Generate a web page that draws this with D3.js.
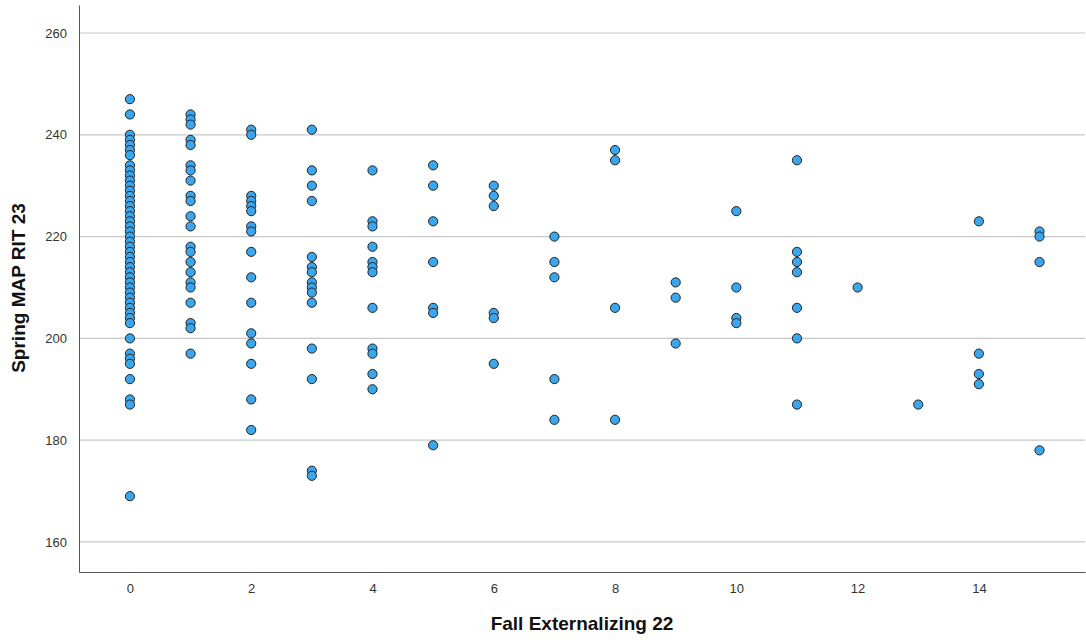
<!DOCTYPE html>
<html><head><meta charset="utf-8">
<script src="https://cdn.jsdelivr.net/npm/d3@7"></script>
<style>body{margin:0;background:#fff}svg{display:block}</style>
</head><body><svg id="c" width="1086" height="643"></svg>
<script>
const xTicks = [0,2,4,6,8,10,12,14];
const yTicks = [160,180,200,220,240,260];
const xLabel = "Fall Externalizing 22";
const yLabel = "Spring MAP RIT 23";
const col0 = [247,244,240,239,238,237,236,234,233,232,231,230,229,228,227,226,225,224,223,222,221,220,219,218,217,216,215,214,213,212,211,210,209,208,207,206,205,204,203,200,197,196,195,192,188,187,169];
const col1 = [244,243,242,239,238,234,233,231,228,227,224,222,218,217,215,213,211,210,207,203,202,197];
const col2 = [241,240,228,227,226,225,222,221,217,212,207,201,199,195,188,182];
const col3 = [241,233,230,227,216,214,213,211,210,209,207,198,192,174,173];
const col4 = [233,223,222,218,215,214,213,206,198,197,193,190];
const col5 = [234,230,223,215,206,205,179];
const col6 = [230,228,226,205,204,195];
const col7 = [220,215,212,192,184];
const col8 = [237,235,206,184];
const col9 = [211,208,199];
const col10 = [225,210,204,203];
const col11 = [235,217,215,213,206,200,187];
const col12 = [210];
const col13 = [187];
const col14 = [223,197,193,191];
const col15 = [221,220,215,178];
const columns = [col0,col1,col2,col3,col4,col5,col6,col7,col8,col9,col10,col11,col12,col13,col14,col15];
const points = [];
columns.forEach((vals,i)=>vals.forEach(v=>points.push({x:i,y:v})));

const svg = d3.select("#c");
const x = d3.scaleLinear().domain([-0.84,15.75]).range([79,1085]);
const y = d3.scaleLinear().domain([154.1,265.5]).range([572,5]);
const font = "'Liberation Sans', Arial, sans-serif";

// gridlines
svg.append("g").selectAll("line").data(yTicks).join("line")
  .attr("x1",79).attr("x2",1085).attr("y1",d=>y(d)).attr("y2",d=>y(d))
  .attr("stroke","#c8c8c8").attr("stroke-width",1.2);

// axes
const yAxis = d3.axisLeft(y).tickValues(yTicks).tickSize(0).tickPadding(12);
const gy = svg.append("g").attr("transform","translate(79,0)").call(yAxis);
gy.select(".domain").attr("stroke","#555");
gy.selectAll("text").attr("font-family",font).attr("font-size",13).attr("fill","#333");

const xAxis = d3.axisBottom(x).tickValues(xTicks).tickSize(0).tickPadding(12);
const gx = svg.append("g").attr("transform","translate(0,572)").call(xAxis);
gx.select(".domain").attr("stroke","#555");
gx.selectAll("text").attr("font-family",font).attr("font-size",13).attr("fill","#333");

// points
svg.append("g").selectAll("circle").data(points).join("circle")
  .attr("cx",d=>x(d.x)).attr("cy",d=>y(d.y)).attr("r",4.6)
  .attr("fill","#3aa6ee").attr("stroke","#222").attr("stroke-width",1);

// titles
svg.append("text").attr("x",582).attr("y",630).attr("text-anchor","middle")
  .attr("font-family",font).attr("font-size",19).attr("font-weight","bold").attr("fill","#111").text(xLabel);
svg.append("text").attr("transform","translate(25,288) rotate(-90)").attr("text-anchor","middle")
  .attr("font-family",font).attr("font-size",19).attr("font-weight","bold").attr("fill","#111").text(yLabel);
</script></body></html>
